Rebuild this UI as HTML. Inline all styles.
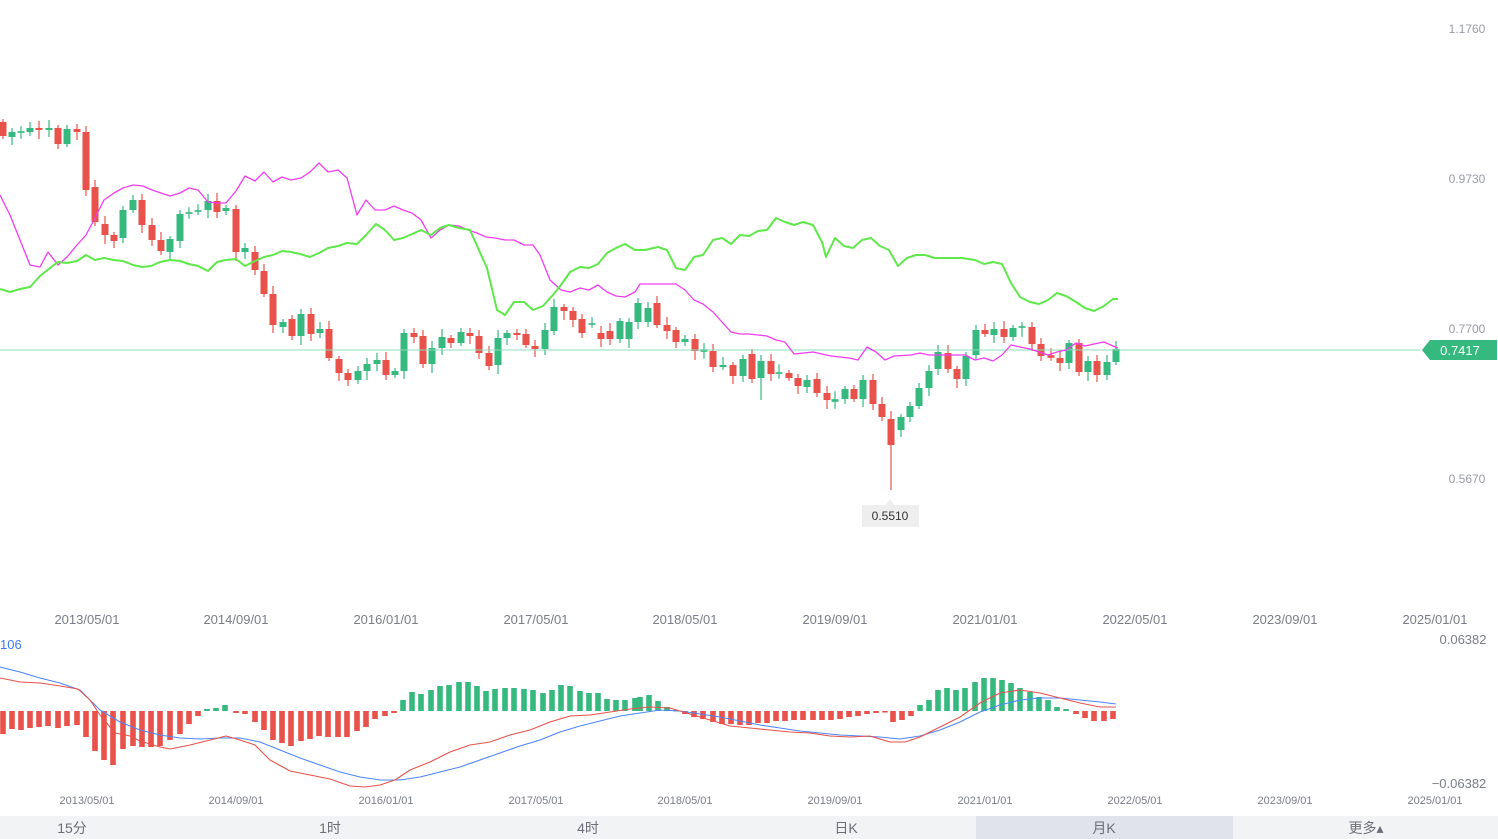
<!DOCTYPE html>
<html><head><meta charset="utf-8"><style>
html,body{margin:0;padding:0;background:#fff;width:1498px;height:839px;overflow:hidden;font-family:"Liberation Sans","Noto Sans CJK SC",sans-serif}
svg{position:absolute;left:0;top:0}
</style></head><body>
<svg id="s" width="1498" height="839" xmlns="http://www.w3.org/2000/svg"></svg>
<script>
const R='#e8524a',G='#35b97f';
let h='';
// candles [x, top, bottom, color(1=green)]
const C=[[3,122,136,0],[12,132,137,1],[21,132,132,1],[30,128,132,1],[39,128,130,0],[49,128,130,1],[58,128,144,0],[67,129,144,1],[77,129,132,0],[86,132,190,0],[95,187,222,0],[105,224,235,0],[114,235,241,0],[123,210,238,1],[133,200,210,1],[142,200,225,0],[152,225,240,0],[161,240,251,0],[170,239,252,1],[180,214,241,1],[189,213,213,1],[198,211,211,1],[208,201,210,1],[217,201,212,0],[226,208,211,1],[236,209,252,0],[245,248,252,1],[255,252,270,0],[264,271,294,0],[273,294,325,0],[283,322,327,1],[292,319,336,0],[301,314,336,1],[311,314,334,0],[320,329,333,1],[329,329,358,0],[339,359,373,0],[348,373,380,0],[358,371,380,1],[367,364,371,1],[377,360,364,1],[386,360,375,0],[395,371,375,1],[404,333,371,1],[414,333,337,0],[423,336,364,0],[432,348,364,1],[442,337,348,1],[451,338,343,0],[461,332,343,1],[470,333,336,0],[479,336,353,0],[489,353,366,0],[498,338,365,1],[507,333,338,1],[517,333,335,0],[526,334,345,0],[535,346,349,0],[545,330,349,1],[554,307,331,1],[564,307,311,0],[573,311,320,0],[582,319,333,0],[592,324,324,1],[601,333,339,0],[610,331,339,0],[620,321,339,1],[629,322,339,1],[638,303,322,1],[648,308,322,1],[657,303,325,0],[667,325,331,0],[676,330,342,0],[685,339,342,1],[695,339,351,0],[704,350,351,1],[713,351,367,0],[723,365,367,1],[733,365,376,0],[743,359,376,1],[752,354,379,0],[761,361,378,1],[771,361,374,0],[779,373,373,1],[789,373,378,0],[798,378,386,0],[807,380,387,1],[817,379,393,0],[827,393,400,0],[835,400,401,1],[845,389,399,1],[854,389,399,0],[863,380,399,1],[873,380,404,0],[882,404,417,0],[891,419,445,0],[901,417,430,1],[910,406,417,1],[919,388,406,1],[929,371,388,1],[938,352,369,1],[948,353,369,0],[957,369,379,0],[966,356,379,1],[976,330,355,1],[985,330,334,0],[994,329,335,1],[1004,329,337,0],[1013,328,337,1],[1022,327,327,1],[1032,327,344,0],[1041,344,356,0],[1051,356,357,0],[1060,358,363,0],[1069,343,363,1],[1079,343,372,0],[1088,361,372,1],[1097,361,375,0],[1107,362,375,1],[1116,349,362,1]];
C.forEach(([x,t,b,g],i)=>{const col=g?G:R;if(b-t<1.5){t-=0.8;b+=0.8}
let wt=t-3-(i*7%6),wb=b+3+(i*5%7);if(x==891)wb=490;if(x==761)wb=400;
h+=`<line x1="${x}" x2="${x}" y1="${wt}" y2="${wb}" stroke="${col}" stroke-width="1.2"/><rect x="${x-3.5}" y="${t}" width="7" height="${b-t}" fill="${col}"/>`;});
const pl=(p,c,w)=>`<polyline fill="none" stroke="${c}" stroke-width="${w}" stroke-linejoin="round" points="${p.map(a=>a.join(',')).join(' ')}"/>`;
const pink=[[0,195],[10,215],[20,240],[30,265],[40,267],[48,252],[58,265],[67,257],[77,245],[86,235],[95,218],[104,200],[114,193],[123,188],[133,185],[143,186],[152,190],[161,193],[170,196],[180,193],[189,188],[198,190],[208,202],[217,203],[226,203],[236,191],[245,176],[255,181],[264,172],[273,182],[282,177],[291,180],[301,178],[310,172],[319,163],[328,172],[338,170],[347,178],[357,215],[366,200],[375,210],[385,210],[394,206],[403,210],[412,213],[421,220],[431,238],[440,230],[449,225],[459,226],[468,230],[477,233],[486,237],[495,238],[505,240],[514,240],[524,245],[533,245],[540,255],[550,280],[561,290],[570,292],[580,288],[589,290],[598,285],[607,292],[616,296],[625,297],[635,292],[640,284],[658,284],[676,284],[685,290],[694,300],[703,304],[713,312],[722,322],[731,332],[740,334],[749,334],[758,335],[767,336],[776,340],[785,342],[794,354],[813,352],[831,356],[849,358],[858,360],[867,347],[876,352],[885,360],[894,356],[911,355],[920,353],[929,355],[947,355],[965,355],[975,360],[984,358],[993,361],[1002,355],[1011,345],[1020,347],[1030,349],[1039,352],[1048,355],[1057,352],[1066,350],[1076,343],[1085,346],[1094,344],[1104,342],[1113,346],[1118,348]];
const grn=[[0,289],[10,292],[20,289],[30,287],[40,276],[50,268],[58,262],[67,263],[77,261],[86,255],[95,260],[104,258],[114,260],[123,261],[133,265],[142,267],[151,266],[160,262],[170,260],[180,261],[189,264],[198,266],[208,271],[217,262],[226,260],[236,259],[245,266],[255,261],[264,257],[273,255],[282,251],[291,252],[300,254],[310,257],[319,253],[328,248],[338,246],[347,243],[357,244],[366,235],[376,224],[385,230],[394,240],[403,238],[412,234],[421,230],[431,235],[440,228],[449,225],[459,228],[470,230],[478,248],[487,268],[497,310],[505,315],[514,302],[524,302],[533,310],[543,306],[552,296],[561,285],[570,272],[580,267],[589,268],[598,264],[607,253],[616,248],[625,244],[635,250],[645,250],[658,247],[667,250],[676,268],[685,270],[694,257],[703,255],[713,240],[722,238],[731,244],[740,235],[749,236],[758,231],[767,230],[776,218],[785,222],[794,225],[803,222],[813,225],[822,242],[826,257],[835,238],[844,246],[853,248],[862,240],[871,238],[880,246],[889,250],[898,266],[907,258],[916,255],[925,255],[935,258],[944,258],[953,258],[962,258],[975,260],[984,264],[993,262],[1002,264],[1011,283],[1020,297],[1030,302],[1039,304],[1048,300],[1057,293],[1066,296],[1076,302],[1085,308],[1094,311],[1104,306],[1113,299],[1118,299]];
h+=`<line x1="0" x2="1420" y1="350" y2="350" stroke="#8ddcb8" stroke-width="1"/>`;
h+=pl(pink,'#f23cf2',1.3)+pl(grn,'#5fe84a',2);
h+=`<polygon points="1422,350 1430,340 1497,340 1497,360 1430,360" fill="${G}"/><text x="1460" y="355" fill="#fff" font-size="13" text-anchor="middle">0.7417</text>`;
h+=`<polygon points="886,505 890,499 894,505" fill="#eeeeee"/><rect x="862" y="505" width="57" height="22" fill="#eeeeee"/><text x="890" y="520" font-size="12" fill="#333" text-anchor="middle">0.5510</text>`;
[['1.1760',33],['0.9730',183],['0.7700',333],['0.5670',483]].forEach(([t,y])=>h+=`<text x="1467" y="${y}" font-size="12" fill="#9a9ca6" text-anchor="middle">${t}</text>`);
const L=['2013/05/01','2014/09/01','2016/01/01','2017/05/01','2018/05/01','2019/09/01','2021/01/01','2022/05/01','2023/09/01','2025/01/01'];
const LX=[87,236,386,536,685,835,985,1135,1285,1435];
L.forEach((t,i)=>{h+=`<text x="${LX[i]}" y="624" font-size="13" fill="#7a7d88" text-anchor="middle">${t}</text><text x="${LX[i]}" y="804" font-size="11" fill="#7a7d88" text-anchor="middle">${t}</text>`});
h+=`<text x="1463" y="644" font-size="13" fill="#7a7d88" text-anchor="middle">0.06382</text><text x="1459" y="788" font-size="13" fill="#7a7d88" text-anchor="middle">−0.06382</text><text x="0" y="649" font-size="13" fill="#3b7bf5">106</text>`;
const M=[[3,734],[12,729],[21,730],[30,728],[39,727],[48,726],[58,728],[67,726],[77,725],[86,737],[95,751],[104,760],[113,765],[123,749],[133,746],[142,747],[151,747],[160,746],[170,740],[180,734],[189,724],[198,716],[207,709],[216,708],[225,705],[236,713],[245,714],[255,722],[264,730],[273,740],[282,743],[291,746],[301,741],[310,739],[319,736],[328,737],[338,737],[347,737],[357,731],[366,727],[375,719],[385,716],[394,713],[403,700],[412,692],[421,694],[431,690],[440,686],[449,685],[459,682],[468,682],[477,686],[486,691],[495,689],[505,688],[514,688],[524,689],[533,690],[543,693],[552,690],[561,685],[570,686],[580,691],[589,693],[598,693],[607,699],[616,700],[625,700],[635,698],[640,697],[649,695],[658,701],[667,707],[676,710],[685,714],[694,717],[703,719],[713,722],[722,724],[731,724],[740,725],[749,725],[758,723],[767,723],[776,721],[785,721],[794,720],[803,720],[813,720],[822,720],[831,720],[840,719],[849,717],[858,716],[867,714],[876,713],[885,712],[893,722],[902,720],[911,716],[920,705],[929,700],[938,690],[947,688],[956,690],[965,688],[975,682],[984,678],[993,678],[1002,680],[1011,683],[1020,688],[1030,692],[1039,697],[1048,700],[1057,707],[1066,709],[1076,714],[1085,718],[1094,721],[1104,721],[1113,719]];
M.forEach(([x,y])=>{const z=711;const col=y<z?G:R;h+=`<rect x="${x-2.8}" y="${Math.min(y,z)}" width="5.6" height="${Math.max(1.5,Math.abs(y-z))}" fill="${col}"/>`});
const blue=[[0,667],[20,672],[40,678],[60,683],[80,690],[90,700],[100,710],[120,722],[140,730],[160,735],[180,738],[200,739],[220,738],[240,738],[260,742],[280,750],[300,758],[320,765],[340,772],[360,777],[380,780],[400,780],[420,777],[440,772],[460,767],[480,760],[500,753],[520,746],[540,740],[560,732],[580,726],[600,721],[620,716],[640,713],[660,710],[680,711],[700,714],[720,717],[740,721],[760,725],[780,728],[800,731],[820,733],[840,735],[860,736],[880,737],[900,739],[920,736],[940,730],[960,722],[980,712],[1000,705],[1020,700],[1040,698],[1060,698],[1080,700],[1100,702],[1116,704]];
const red=[[0,678],[20,682],[40,683],[60,686],[78,689],[90,700],[100,715],[115,733],[130,736],[140,741],[160,747],[170,749],[190,745],[210,740],[226,736],[240,740],[255,745],[270,760],[290,771],[310,775],[330,779],[350,786],[365,787],[380,785],[395,780],[410,770],[430,762],[450,752],[470,745],[490,742],[510,735],[530,730],[550,722],[570,716],[590,715],[610,712],[630,709],[650,707],[670,708],[690,714],[710,720],[730,726],[750,728],[770,730],[790,732],[810,733],[830,736],[850,737],[870,736],[890,742],[905,742],[920,737],[940,727],[960,717],[980,703],[1000,693],[1020,690],[1040,693],[1060,698],[1080,703],[1100,707],[1116,707]];
h+=pl(blue,'#4f86f7',1.1)+pl(red,'#e8524a',1.1);
h+=`<rect x="0" y="816" width="1498" height="23" fill="#f2f3f5"/><rect x="976" y="816" width="257" height="23" fill="#e0e3ea"/>`;
[['15分',72],['1时',330],['4时',588],['日K',846],['月K',1104],['更多▴',1366]].forEach(([t,x])=>h+=`<text x="${x}" y="833" font-size="14" fill="#6b6e78" text-anchor="middle">${t}</text>`);
document.getElementById('s').innerHTML=h;
</script>
</body></html>
